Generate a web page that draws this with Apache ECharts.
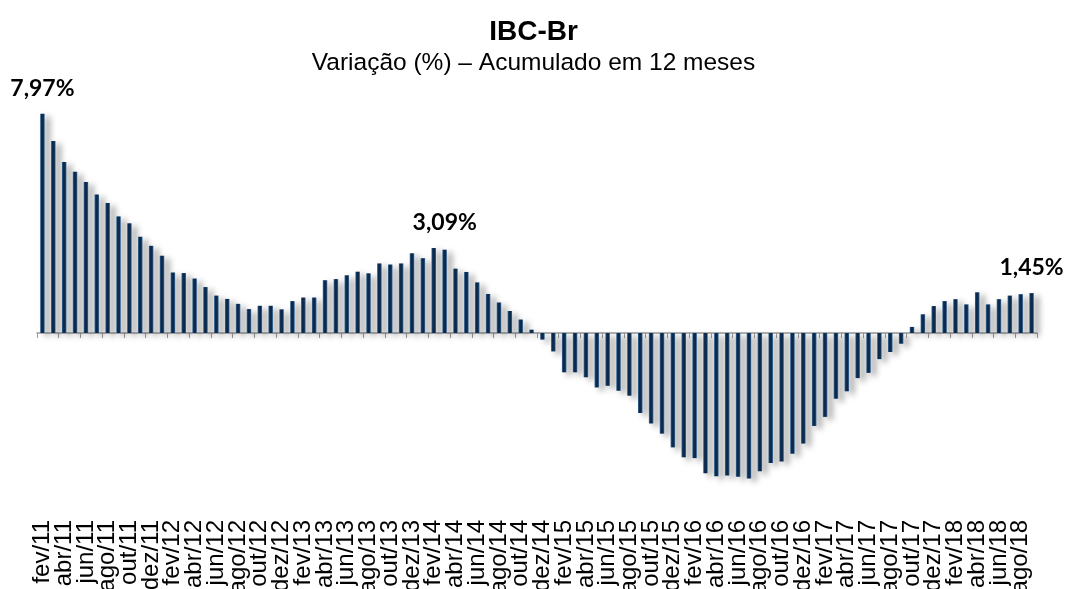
<!DOCTYPE html>
<html>
<head>
<meta charset="utf-8">
<script src="https://cdn.jsdelivr.net/npm/echarts@6/dist/echarts.min.js"></script>
<style>
  html, body { margin: 0; padding: 0; background: #ffffff; }
  #chart { width: 1067px; height: 589px; }
</style>
</head>
<body>
<div id="chart"></div>
<script>
// ---- Data ----
var titleText = 'IBC-Br';
var subtitleText = 'Variação (%) – Acumulado em 12 meses';

var categories = [
  'fev/11','mar/11','abr/11','mai/11','jun/11','jul/11','ago/11','set/11','out/11','nov/11','dez/11',
  'jan/12','fev/12','mar/12','abr/12','mai/12','jun/12','jul/12','ago/12','set/12','out/12','nov/12','dez/12',
  'jan/13','fev/13','mar/13','abr/13','mai/13','jun/13','jul/13','ago/13','set/13','out/13','nov/13','dez/13',
  'jan/14','fev/14','mar/14','abr/14','mai/14','jun/14','jul/14','ago/14','set/14','out/14','nov/14','dez/14',
  'jan/15','fev/15','mar/15','abr/15','mai/15','jun/15','jul/15','ago/15','set/15','out/15','nov/15','dez/15',
  'jan/16','fev/16','mar/16','abr/16','mai/16','jun/16','jul/16','ago/16','set/16','out/16','nov/16','dez/16',
  'jan/17','fev/17','mar/17','abr/17','mai/17','jun/17','jul/17','ago/17','set/17','out/17','nov/17','dez/17',
  'jan/18','fev/18','mar/18','abr/18','mai/18','jun/18','jul/18','ago/18','set/18'
];

var values = [
  7.97, 6.98, 6.22, 5.86, 5.49, 5.04, 4.73, 4.24, 3.99, 3.50, 3.17,
  2.81, 2.20, 2.18, 1.98, 1.67, 1.36, 1.24, 1.06, 0.87, 0.99, 0.99, 0.86,
  1.16, 1.29, 1.29, 1.92, 1.96, 2.10, 2.23, 2.17, 2.53, 2.49, 2.53, 2.90,
  2.72, 3.09, 3.03, 2.34, 2.22, 1.84, 1.42, 1.11, 0.80, 0.49, 0.12, -0.24,
  -0.67, -1.43, -1.43, -1.61, -1.98, -1.92, -2.10, -2.28, -2.91, -3.29, -3.66, -4.16,
  -4.52, -4.55, -5.10, -5.21, -5.18, -5.23, -5.29, -5.03, -4.73, -4.67, -4.39, -4.02,
  -3.38, -3.05, -2.39, -2.12, -1.64, -1.45, -0.95, -0.69, -0.39, 0.22, 0.68, 0.98,
  1.16, 1.23, 1.04, 1.48, 1.04, 1.23, 1.36, 1.41, 1.45
];

// bars carrying a value label
var labeledIndex = [0, 36, 91];

// ---- Build chart ----
function fmt(v) { return v.toFixed(2).replace('.', ',') + '%'; }

var seriesData = values.map(function (v, i) {
  if (labeledIndex.indexOf(i) >= 0) {
    return {
      value: v,
      label: {
        show: true,
        position: 'top',
        distance: 14,
        offset: i === 36 ? [11, 0] : [0, 0],
        formatter: function (p) { return fmt(p.value); },
        fontFamily: 'Lato',
        fontWeight: 'bold',
        fontSize: 23,
        color: '#000000'
      }
    };
  }
  return v;
});

var chart = echarts.init(document.getElementById('chart'), null, { renderer: 'canvas' });

chart.setOption({
  animation: false,
  backgroundColor: '#ffffff',
  title: {
    text: titleText,
    subtext: subtitleText,
    left: 'center',
    top: 13,
    itemGap: 5,
    textStyle: {
      fontFamily: 'Liberation Sans',
      fontWeight: 'bold',
      fontSize: 28,
      color: '#000000'
    },
    subtextStyle: {
      fontFamily: 'Liberation Sans',
      fontSize: 24.5,
      color: '#000000'
    }
  },
  grid: { left: 37, right: 30, top: 113, bottom: 91, containLabel: false, outerBoundsMode: 'none' },
  xAxis: [
    {
      type: 'category',
      data: categories,
      position: 'bottom',
      boundaryGap: true,
      axisLine: { show: false, onZero: false },
      axisTick: { show: false },
      axisLabel: {
        interval: 0,
        rotate: 90,
        margin: 22,
        hideOverlap: false,
        // every other month is labelled
        formatter: function (value, index) { return index % 2 === 0 ? value : ''; },
        fontFamily: 'Liberation Sans',
        fontSize: 24,
        color: '#000000'
      }
    },
    {
      type: 'category',
      data: categories,
      position: 'bottom',
      boundaryGap: true,
      axisLine: { show: true, onZero: true, lineStyle: { color: '#9a9a9a', width: 1.5 } },
      axisTick: { show: true, interval: 1, length: 5, lineStyle: { color: '#9a9a9a', width: 1 } },
      axisLabel: { show: false }
    }
  ],
  yAxis: {
    type: 'value',
    min: -6,
    max: 8,
    show: false,
    splitLine: { show: false }
  },
  series: [
    {
      type: 'bar',
      xAxisIndex: 0,
      data: seriesData,
      barWidth: 4.5,
      itemStyle: {
        color: new echarts.graphic.LinearGradient(0, 0, 1, 0, [
          { offset: 0, color: '#3f6e9c' },
          { offset: 0.3, color: '#0b2a4d' },
          { offset: 0.7, color: '#0b2a4d' },
          { offset: 1, color: '#3f6e9c' }
        ]),
        shadowColor: 'rgba(0,0,0,0.42)',
        shadowBlur: 6,
        shadowOffsetX: 5,
        shadowOffsetY: 3
      }
    }
  ]
});
</script>
</body>
</html>
